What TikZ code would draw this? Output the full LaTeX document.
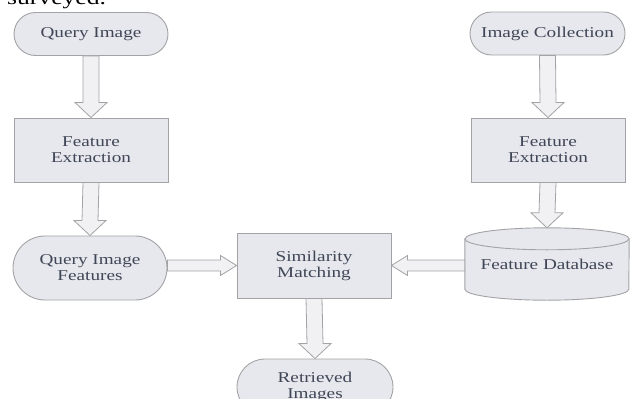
\documentclass[tikz,border=0pt]{standalone}
\usepackage{fontspec}
\setmainfont{Liberation Serif}
\newfontfamily\diafont[FakeStretch=1.28]{Liberation Serif}
\usetikzlibrary{calc,shapes.misc,backgrounds}
\definecolor{boxfill}{HTML}{E7E8ED}
\definecolor{boxline}{HTML}{A3A3A6}
\definecolor{txt}{HTML}{3F4656}
\newcommand{\varr}[2]{%
  \draw[barrow] ($(#1.south)+(-8pt,0)$) -- ($(#2.north)+(-8pt,15pt)$) -- ($(#2.north)+(-16pt,15pt)$) -- (#2.north)
    -- ($(#2.north)+(16pt,15pt)$) -- ($(#2.north)+(8pt,15pt)$) -- ($(#1.south)+(8pt,0)$) -- cycle;}
\newcommand{\rarr}[2]{%
  \draw[barrow] ($(#1.east |- #2.west)+(0,5.5pt)$) -- ($(#2.west)+(-16pt,5.5pt)$) -- ($(#2.west)+(-16pt,10pt)$) -- (#2.west)
    -- ($(#2.west)+(-16pt,-10pt)$) -- ($(#2.west)+(-16pt,-5.5pt)$) -- ($(#1.east |- #2.west)+(0,-5.5pt)$) -- cycle;}
\newcommand{\larr}[2]{%
  \draw[barrow] ($(#1.west |- #2.east)+(0,5.5pt)$) -- ($(#2.east)+(16pt,5.5pt)$) -- ($(#2.east)+(16pt,10pt)$) -- (#2.east)
    -- ($(#2.east)+(16pt,-10pt)$) -- ($(#2.east)+(16pt,-5.5pt)$) -- ($(#1.west |- #2.east)+(0,-5.5pt)$) -- cycle;}
\begin{document}
\begin{tikzpicture}[x=1pt,y=-1pt,
  base/.style={draw=boxline, fill=boxfill, line width=0.9pt, text=txt,
    font=\diafont\fontsize{15}{16}\selectfont, align=center, inner sep=0pt},
  pill/.style={base, rounded rectangle, minimum width=154pt, minimum height=#1},
  boxnode/.style={base, rectangle, minimum width=154pt, minimum height=64pt},
  barrow/.style={draw=boxline, fill=boxfill!60!white, line width=0.8pt, line join=miter}]
\clip (0,0) rectangle (632,399);
\useasboundingbox (0,0) rectangle (632,399);

\node[anchor=base west, inner sep=0pt, font=\diafont\fontsize{20}{20}\selectfont] (sv) at (7,4) {surveyed.};

\node[pill=43pt] (qi) at (91,34) {Query Image};
\node[boxnode] (fe1) at (91,150) {Feature\\Extraction};
\node[pill=64pt] (qif) at (90,268) {Query Image\\Features};
\node[boxnode, minimum height=65pt] (sm) at (314,265.5) {Similarity\\Matching};
\node[pill=56pt, minimum width=156pt] (ri) at (315,387) {Retrieved\\Images};
\node[pill=43pt, minimum width=155pt] (ic) at (547.5,33.5) {Image Collection};
\node[boxnode] (fe2) at (548,150) {Feature\\Extraction};
\node[inner sep=0pt, minimum width=164pt, minimum height=72pt, text=txt,
  font=\diafont\fontsize{15}{16}\selectfont] (fdb) at (547,264) {Feature Database};
\begin{scope}[on background layer]
  \draw[draw=boxline, fill=boxfill, line width=0.9pt]
    ($(fdb.north west)+(0,-11pt)$) -- ($(fdb.south west)+(0,11pt)$)
    arc[start angle=180, end angle=360, x radius=82pt, y radius=11pt]
    -- ($(fdb.north east)+(0,-11pt)$)
    arc[start angle=0, end angle=180, x radius=82pt, y radius=11pt] -- cycle;
  \draw[draw=boxline, line width=0.9pt]
    ($(fdb.north west)+(0,-11pt)$) arc[start angle=180, end angle=360, x radius=82pt, y radius=11pt];
\end{scope}

\varr{qi}{fe1}
\varr{fe1}{qif}
\varr{ic}{fe2}
\varr{fe2}{fdb}
\varr{sm}{ri}
\rarr{qif}{sm}
\larr{fdb}{sm}
\end{tikzpicture}
\end{document}
